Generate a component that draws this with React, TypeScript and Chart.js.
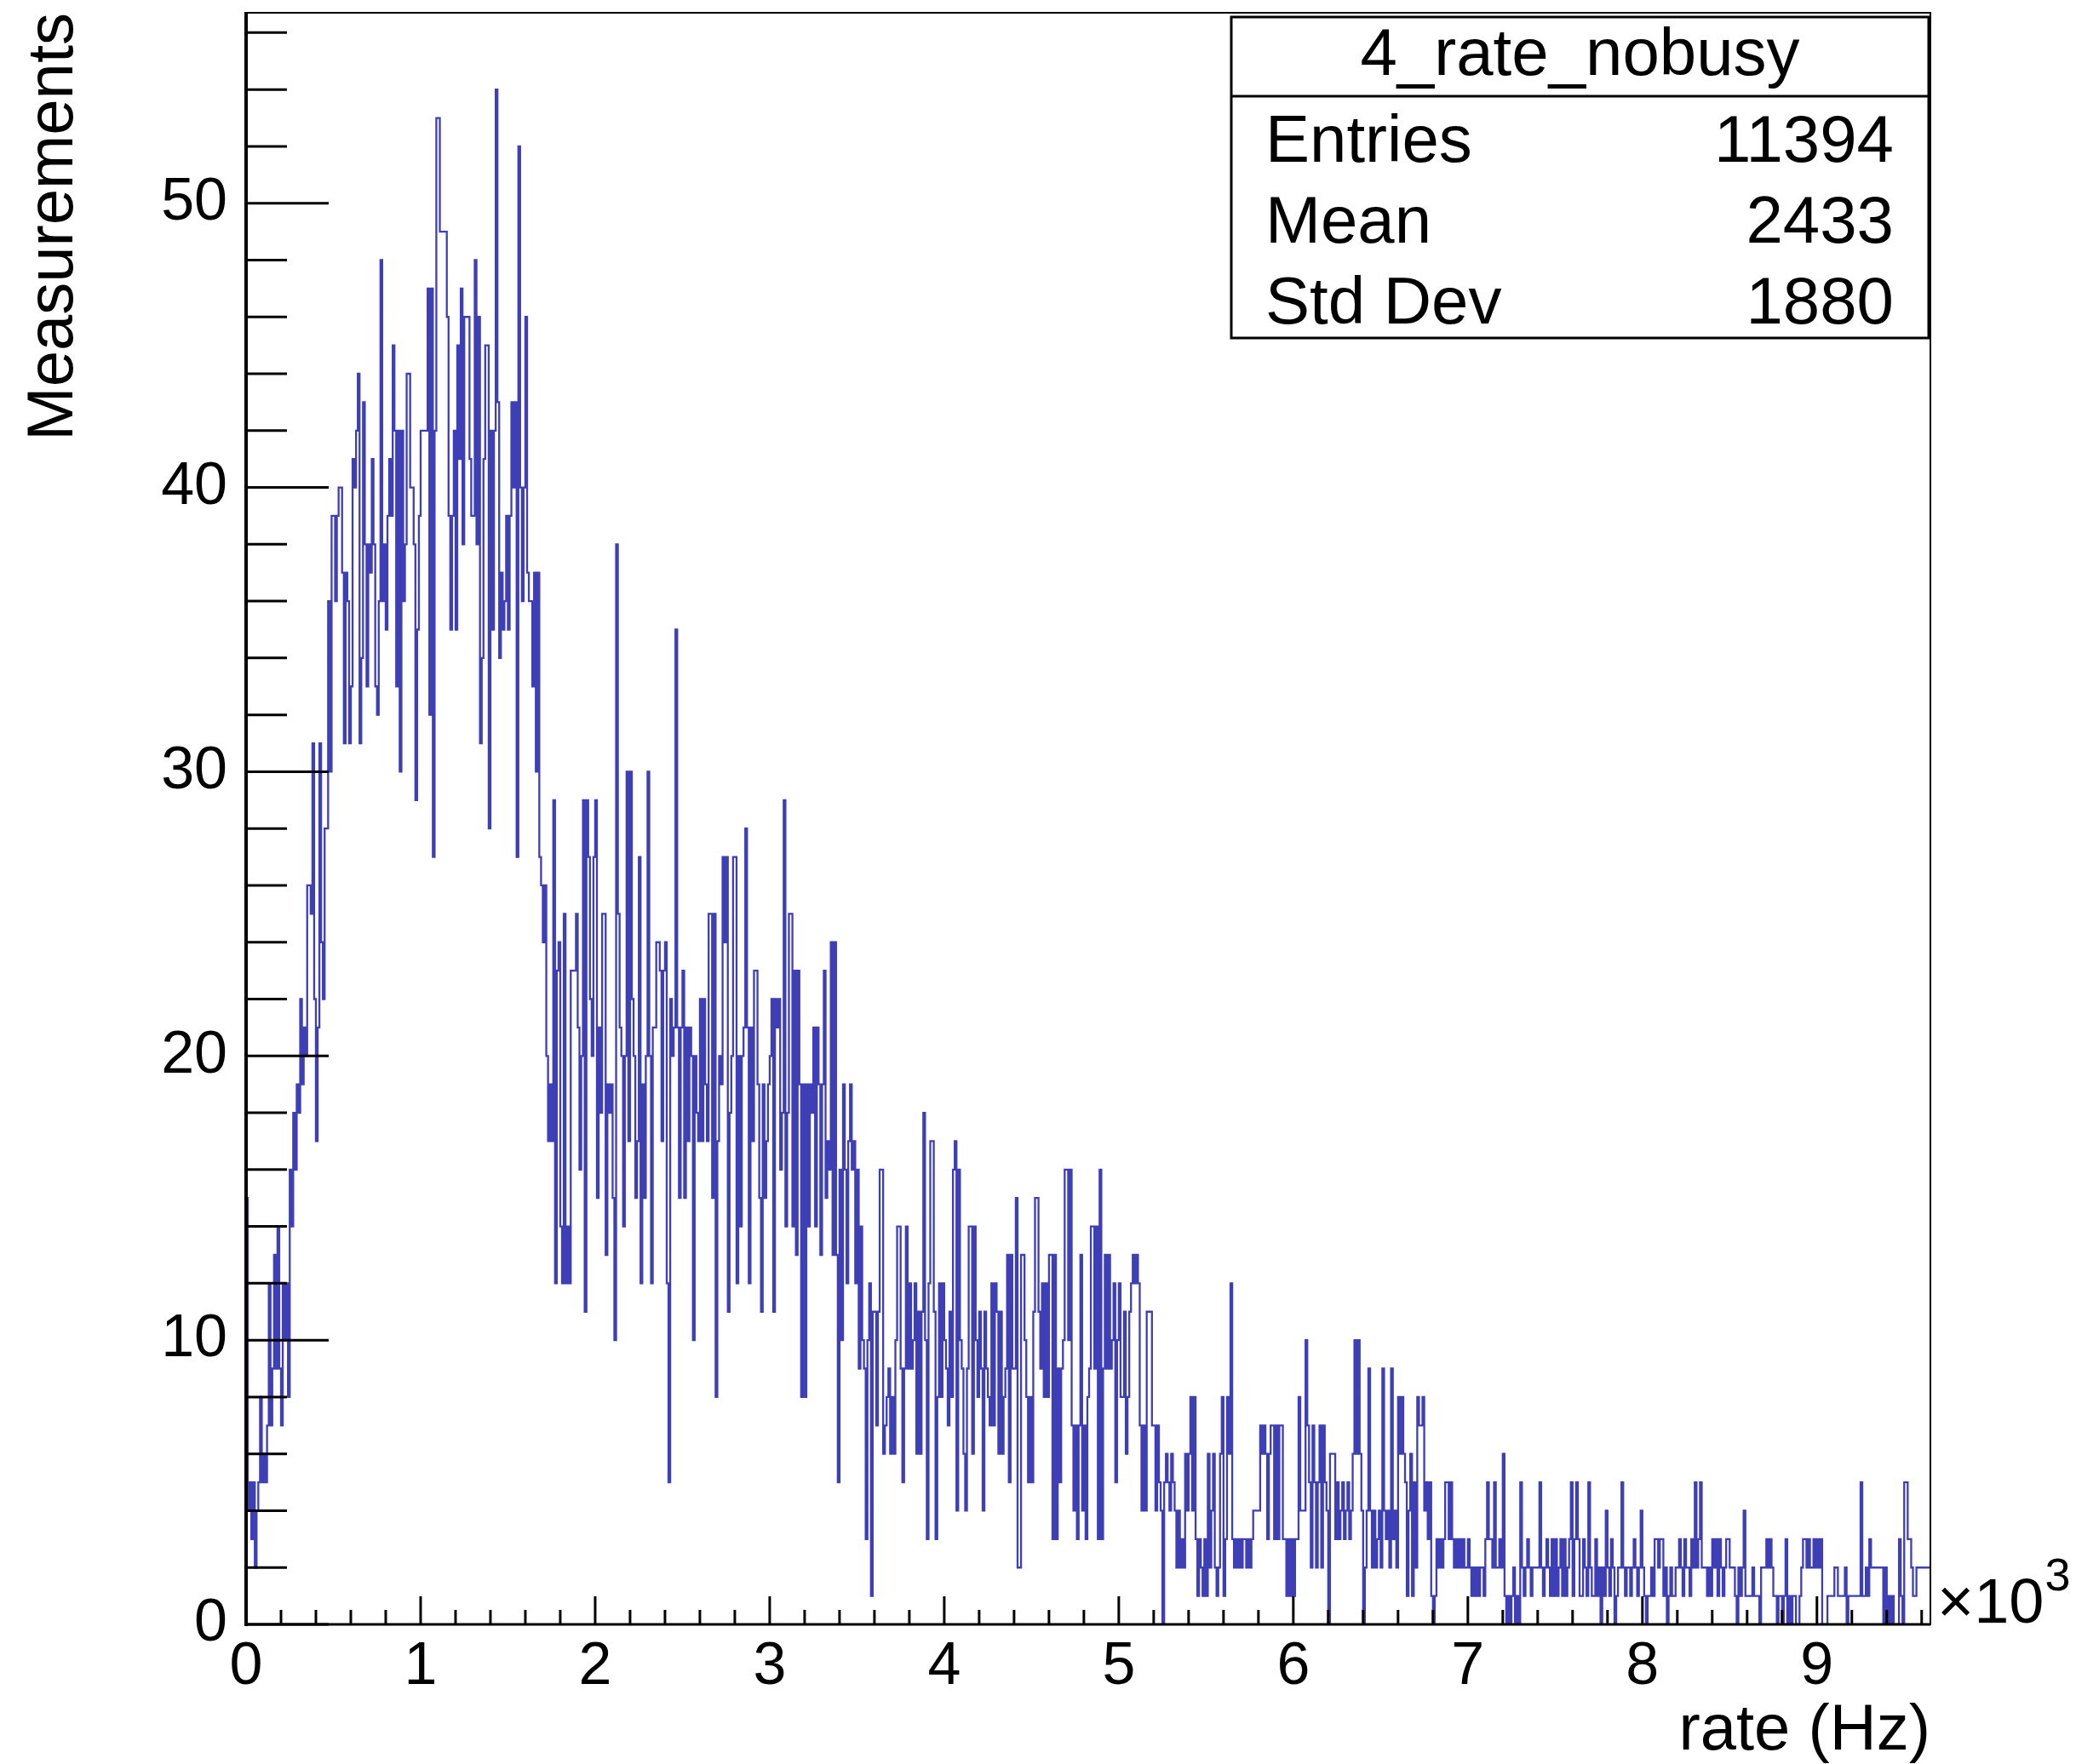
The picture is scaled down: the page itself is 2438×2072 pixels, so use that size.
import React, { useEffect, useRef } from 'react';
import { Chart, registerables } from 'chart.js';

Chart.register(...registerables);

const W = 2438;
const H = 2072;
const FONT = "'Liberation Sans', Arial, Helvetica, sans-serif";

// ---- histogram definition ----
const BIN_WIDTH_HZ = 10;
const X_MIN = 0;
const X_MAX = 9650;
const Y_MIN = 0;
const Y_MAX = 56.7;

// bin contents, 10 Hz bins
const COUNTS_0_2K = [
  15,4,5,3,5,2,4,5,8,5, 6,5,7,12,7,9,13,9,14,9, 7,12,10,12,8,16,14,18,16,19, 18,22,19,21,20,26,26,25,31,22,
  17,21,31,24,22,28,28,36,30,39, 39,36,39,40,40,37,31,37,36,31, 33,41,40,42,44,31,34,43,38,33, 38,37,41,38,33,32,36,48,36,38,
  35,39,41,39,45,42,33,42,30,42, 36,38,44,44,40,40,38,29,35,39, 42,42,42,42,47,32,47,27,42,53, 53,49,49,49,49,46,39,35,39,42,
  35,45,41,47,38,46,46,46,41,39, 39,48,38,46,31,34,41,45,45,28, 42,35,42,54,43,34,37,35,36,39, 35,39,43,40,43,27,52,40,36,40,
  46,37,36,36,33,37,30,37,27,26, 24,26,20,17,19,17,29,12,23,24, 14,12,25,12,14,12,23,23,23,25, 21,16,20,29,11,29,27,22,20,27,
];
const COUNTS_2K_4K = [
  29,15,21,18,25,25,13,19,18,19, 15,10,38,25,21,20,14,20,30,17, 30,22,20,15,17,27,12,19,15,20, 30,20,12,21,21,24,24,23,17,23,
  24,12,5,22,20,21,35,21,15,21, 23,15,21,17,21,20,10,20,18,17, 22,17,22,19,17,25,25,15,25,8, 17,20,19,27,24,27,11,18,20,27,
  27,12,20,14,20,21,28,21,12,21, 17,23,23,19,15,11,19,15,17,19, 20,22,11,22,21,22,16,18,29,14, 18,25,25,14,23,13,23,19,8,19,
  8,19,14,19,18,21,14,21,19,13, 19,23,15,17,16,24,13,24,13,5, 16,10,19,16,12,17,19,16,17,12, 16,9,14,10,9,3,10,12,1,11,
  11,7,11,16,16,6,7,8,9,6, 8,6,10,14,14,9,5,9,14,9, 12,9,10,12,6,11,6,11,18,10, 3,12,17,17,11,3,8,12,8,12,
];
const COUNTS_4K_6K = [
  10,9,7,11,8,16,17,4,16,10, 9,6,4,9,14,14,6,14,10,8, 11,9,4,11,9,8,7,12,7,12, 11,6,11,6,8,9,13,5,13,9,
  9,15,2,2,13,13,10,8,5,8, 5,11,15,15,11,9,12,8,12,8, 13,13,3,13,3,9,5,9,10,16, 16,10,16,7,4,7,3,7,13,4,
  7,3,8,9,14,14,9,14,3,16, 3,9,13,9,13,9,10,12,5,10, 12,8,8,11,6,8,11,12,13,12, 13,12,7,4,7,4,11,11,11,7,
  7,4,7,5,4,0,5,6,5,4, 6,5,4,2,4,2,3,2,6,4, 6,8,4,8,3,1,3,2,1,3, 1,6,2,4,6,2,1,2,6,8,
  1,3,8,6,12,3,2,3,2,3, 2,3,3,2,3,2,3,4,4,4, 4,7,6,7,6,3,6,7,7,3, 7,3,7,7,3,3,1,3,1,3,
];
const COUNTS_6K_8K = [
  1,3,3,8,4,4,4,10,7,5, 2,7,5,2,5,7,2,7,5,4, 0,6,6,6,3,5,3,4,5,3, 4,5,3,4,6,10,6,10,6,4,
  0,2,4,9,4,2,4,2,3,4, 2,9,4,3,4,2,9,3,4,2, 8,6,8,6,5,1,4,6,1,5, 2,8,7,7,8,4,5,3,5,1,
  0,1,3,2,3,2,3,5,5,3, 5,3,2,3,2,3,2,3,2,2, 3,2,1,2,1,2,1,2,2,1, 3,5,3,3,2,5,2,2,3,2,
  6,1,0,1,0,1,2,0,1,0, 5,2,1,2,3,2,1,2,2,2, 2,5,2,1,2,3,2,1,3,1, 3,1,2,3,1,3,1,2,3,5,
  1,3,5,3,1,1,3,2,1,5, 2,1,1,3,1,2,0,2,1,4, 2,1,3,2,0,1,2,2,5,2, 1,2,2,1,2,3,2,1,2,4,
];
const COUNTS_8K_965K = [
  2,1,0,1,1,2,1,3,3,2, 3,3,1,2,0,1,2,1,1,2, 2,3,2,1,3,2,2,1,3,2, 5,2,3,5,2,2,2,1,2,1,
  3,2,3,1,3,2,1,2,3,3, 2,2,2,1,0,2,1,2,4,1, 1,1,1,2,1,1,1,0,2,2, 2,3,2,3,2,1,1,0,1,1,
  0,1,3,0,1,0,1,1,0,0, 1,2,3,3,2,3,2,2,3,2, 3,2,3,0,0,0,1,1,1,1, 2,2,1,1,1,1,2,0,1,1,
  1,1,1,1,1,5,1,1,2,1, 3,2,2,2,2,2,2,2,0,2, 0,1,0,1,0,0,0,3,1,0, 5,5,3,3,2,1,1,2,2,2,
  2,2,2,2,2,
];

// ---- axes / text ----
const X_TICK_VALUES = [0, 1000, 2000, 3000, 4000, 5000, 6000, 7000, 8000, 9000];
const Y_TICK_VALUES = [0, 10, 20, 30, 40, 50];
const X_MAJOR_STEP = 1000;
const X_MINOR_STEP = 200;
const Y_MAJOR_STEP = 10;
const Y_MINOR_STEP = 2;
const X_TITLE = 'rate (Hz)';
const Y_TITLE = 'Measurements';
const X_EXPONENT_BASE = '\u00d710';
const X_EXPONENT_POWER = '3';
const HIST_NAME = '4_rate_nobusy';
const STAT_LABELS = ['Entries', 'Mean', 'Std Dev'];
const STAT_VALUES = ['11394', '2433', '1880'];

const LINE_COLOR = 'rgb(62, 62, 182)';

const rootDecor = {
  id: 'rootDecor',
  afterDraw(chart: any) {
    const ctx: CanvasRenderingContext2D = chart.ctx;
    const { left, right, top, bottom } = chart.chartArea;
    const xs = chart.scales.x;
    const ys = chart.scales.y;
    const line = (x1: number, y1: number, x2: number, y2: number) => {
      ctx.beginPath();
      ctx.moveTo(x1, y1);
      ctx.lineTo(x2, y2);
      ctx.stroke();
    };
    ctx.save();
    ctx.strokeStyle = '#000';
    // frame
    ctx.lineWidth = 2;
    ctx.strokeRect(left, top, right - left, bottom - top);
    ctx.lineWidth = 4;
    line(left, top - 1, left, bottom + 2);
    ctx.lineWidth = 3;
    line(left, bottom, right, bottom);
    // y ticks (inside)
    ctx.lineWidth = 3;
    for (let v = Y_MIN; v <= Y_MAX + 1e-9; v += Y_MINOR_STEP) {
      const py = ys.getPixelForValue(v);
      const len = Math.abs(v % Y_MAJOR_STEP) < 1e-9 ? 97 : 48;
      line(left, py, left + len, py);
    }
    // x ticks (inside)
    for (let v = X_MIN; v <= X_MAX + 1e-9; v += X_MINOR_STEP) {
      const px = xs.getPixelForValue(v);
      const len = Math.abs(v % X_MAJOR_STEP) < 1e-9 ? 33 : 17;
      line(px, bottom, px, bottom - len);
    }
    // exponent label
    ctx.fillStyle = '#000';
    ctx.textBaseline = 'alphabetic';
    ctx.textAlign = 'left';
    ctx.font = `74px ${FONT}`;
    const ex = right + 8;
    ctx.fillText(X_EXPONENT_BASE, ex, bottom - 2);
    const bw = ctx.measureText(X_EXPONENT_BASE).width;
    ctx.font = `54px ${FONT}`;
    ctx.fillText(X_EXPONENT_POWER, ex + bw + 1, bottom - 40);

    // stats box
    const bL = 1446, bR = 2265, bT = 20, bB = 397, bDiv = 113;
    ctx.fillStyle = '#fff';
    ctx.fillRect(bL, bT, bR - bL, bB - bT);
    ctx.lineWidth = 3;
    ctx.strokeRect(bL, bT, bR - bL, bB - bT);
    line(bL, bDiv, bR, bDiv);
    ctx.fillStyle = '#000';
    ctx.font = `78px ${FONT}`;
    ctx.textAlign = 'center';
    ctx.fillText(HIST_NAME, (bL + bR) / 2, 88);
    const rowBase = [190, 285, 380];
    STAT_LABELS.forEach((lab, i) => {
      ctx.textAlign = 'left';
      ctx.fillText(lab, 1486, rowBase[i]);
      ctx.textAlign = 'right';
      ctx.fillText(STAT_VALUES[i], 2224, rowBase[i]);
    });
    ctx.restore();
  },
};

export default function App() {
  const ref = useRef<HTMLCanvasElement>(null);
  useEffect(() => {
    document.body.style.margin = '0';
    const counts = [...COUNTS_0_2K, ...COUNTS_2K_4K, ...COUNTS_4K_6K, ...COUNTS_6K_8K, ...COUNTS_8K_965K];
    const points: { x: number; y: number }[] = [{ x: X_MIN, y: 0 }];
    counts.forEach((c, i) => points.push({ x: X_MIN + i * BIN_WIDTH_HZ, y: c }));
    points.push({ x: X_MIN + counts.length * BIN_WIDTH_HZ, y: counts[counts.length - 1] });

    const chart = new Chart(ref.current as HTMLCanvasElement, {
      type: 'line',
      data: {
        datasets: [
          {
            data: points,
            borderColor: LINE_COLOR,
            borderWidth: 2.3,
            pointRadius: 0,
            fill: false,
            stepped: 'before',
            tension: 0,
          },
        ],
      },
      options: {
        responsive: false,
        animation: false,
        devicePixelRatio: 1,
        layout: { padding: { top: 15, right: 171, left: 0, bottom: 0 } },
        plugins: { legend: { display: false }, tooltip: { enabled: false } },
        scales: {
          x: {
            type: 'linear',
            min: X_MIN,
            max: X_MAX,
            grid: { display: false, drawTicks: false },
            border: { display: false },
            afterBuildTicks: (s: any) => {
              s.ticks = X_TICK_VALUES.map((v) => ({ value: v }));
            },
            ticks: {
              autoSkip: false,
              maxRotation: 0,
              padding: 9,
              color: '#000',
              font: { family: FONT, size: 70 },
              callback: (v: any) => String(Number(v) / 1000),
            },
            title: {
              display: true,
              text: X_TITLE,
              align: 'end',
              color: '#000',
              font: { family: FONT, size: 76, lineHeight: 1 },
              padding: { top: 0, bottom: 0 },
            },
            afterFit: (s: any) => {
              s.height = H - 1908;
              s.paddingLeft = 0;
              s.paddingRight = 0;
            },
          },
          y: {
            type: 'linear',
            min: Y_MIN,
            max: Y_MAX,
            grid: { display: false, drawTicks: false },
            border: { display: false },
            afterBuildTicks: (s: any) => {
              s.ticks = Y_TICK_VALUES.map((v) => ({ value: v }));
            },
            ticks: {
              autoSkip: false,
              padding: 22,
              color: '#000',
              font: { family: FONT, size: 70 },
            },
            title: {
              display: true,
              text: Y_TITLE,
              align: 'end',
              color: '#000',
              font: { family: FONT, size: 76, lineHeight: 1 },
              padding: { top: 26, bottom: 0 },
            },
            afterFit: (s: any) => {
              s.width = 289;
              s.paddingTop = 0;
              s.paddingBottom = 0;
            },
          },
        },
      },
      plugins: [rootDecor],
    } as any);
    return () => chart.destroy();
  }, []);
  return (
    <div style={{ position: 'absolute', left: 0, top: 0, width: W, height: H, background: '#fff' }}>
      <canvas ref={ref} width={W} height={H} style={{ width: W, height: H, display: 'block' }} />
    </div>
  );
}
